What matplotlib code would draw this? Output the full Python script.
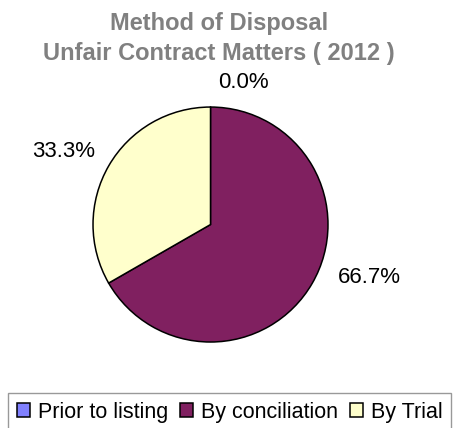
import matplotlib
matplotlib.use('Agg')
import matplotlib.pyplot as plt
import numpy as np

plt.rcParams['font.family'] = ['Liberation Sans', 'DejaVu Sans']

labels = ['Prior to listing', 'By conciliation', 'By Trial']
values = [0.0, 66.7, 33.3]
colors = ['#8080FF', '#802060', '#FFFFCC']
title_lines = ['Method of Disposal', 'Unfair Contract Matters ( 2012 )']

fig = plt.figure(figsize=(4.55, 4.28), dpi=100)
ax = fig.add_axes([0.2044, 0.2009, 0.5165, 0.549])

wedges, texts, autotexts = ax.pie(values, colors=colors, startangle=90, counterclock=False,
                                  autopct='%1.1f%%', pctdistance=1.3,
                                  wedgeprops=dict(edgecolor='black', linewidth=1.1))
ax.set_xlim(-1, 1)
ax.set_ylim(-1, 1)
ax.set_aspect('equal')

# excel-ish label placement (distance, angle offset from wedge middle)
dists = [1.244, 1.421, 1.398]
angle_shift = [-12.9, 11.7, 3.8]
for w, t, d, s in zip(wedges, autotexts, dists, angle_shift):
    ang = np.deg2rad((w.theta1 + w.theta2) / 2 + s)
    t.set_position((d * np.cos(ang), d * np.sin(ang)))
    t.set_fontsize(16)
    t.set_color('black')
    t.set_ha('center')
    t.set_va('center')

for y, line in zip([0.946, 0.874], title_lines):
    fig.text(0.481, y, line, ha='center', va='center', fontsize=17,
             fontweight='bold', color='#808080')

leg = fig.legend(wedges, labels, loc='upper left', bbox_to_anchor=(0.0176, 0.0818),
                 ncol=3, frameon=True, fancybox=False, fontsize=15.5,
                 handlelength=0.6, handleheight=0.6, handletextpad=0.37, columnspacing=0.56,
                 borderpad=0.4, borderaxespad=0)
leg.get_frame().set_edgecolor('#808080')
leg.get_frame().set_linewidth(1)

fig.savefig('out.png', dpi=100)
